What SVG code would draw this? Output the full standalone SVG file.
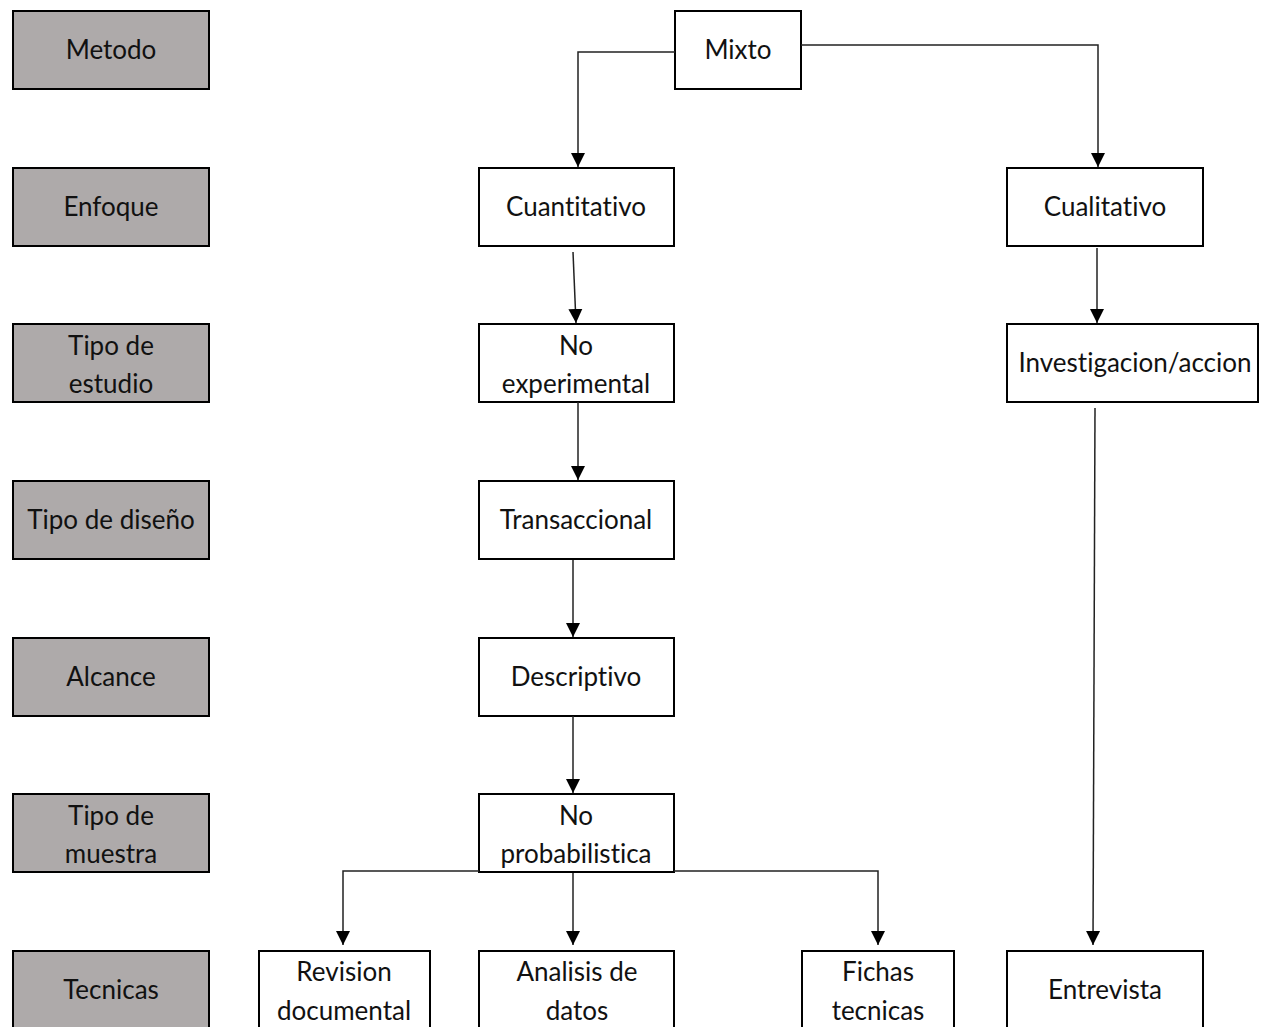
<svg xmlns="http://www.w3.org/2000/svg" width="1271" height="1027" viewBox="0 0 1271 1027">
<style>
.lab rect{fill:#AEAAAA;stroke:#000;stroke-width:2}
.box rect{fill:#fff;stroke:#000;stroke-width:2}
text{font-family:Lato,"Liberation Sans",sans-serif;font-size:26px;fill:#111;text-anchor:middle;dominant-baseline:central;font-variant-ligatures:none;font-feature-settings:"liga" 0,"clig" 0}
.con path{fill:none;stroke:#222;stroke-width:1.5}
</style>
<defs>
<marker id="ah" markerUnits="userSpaceOnUse" markerWidth="14" markerHeight="16" refX="14" refY="7" orient="auto" viewBox="0 0 14 14">
<path d="M0,0 L14,7 L0,14 Z" fill="#000"/>
</marker>
</defs>
<rect width="1271" height="1027" fill="#fff"/>
<g id="lab-metodo" class="lab"><rect x="13" y="11" width="196" height="78"/><text x="111" y="49">Metodo</text></g>
<g id="lab-enfoque" class="lab"><rect x="13" y="168" width="196" height="78"/><text x="111" y="206">Enfoque</text></g>
<g id="lab-estudio" class="lab"><rect x="13" y="324" width="196" height="78"/><text x="111" y="345">Tipo de</text><text x="111" y="383">estudio</text></g>
<g id="lab-diseno" class="lab"><rect x="13" y="481" width="196" height="78"/><text x="111" y="519">Tipo de diseño</text></g>
<g id="lab-alcance" class="lab"><rect x="13" y="638" width="196" height="78"/><text x="111" y="676">Alcance</text></g>
<g id="lab-muestra" class="lab"><rect x="13" y="794" width="196" height="78"/><text x="111" y="815">Tipo de</text><text x="111" y="853">muestra</text></g>
<g id="lab-tecnicas" class="lab"><rect x="13" y="951" width="196" height="90"/><text x="111" y="989">Tecnicas</text></g>

<g id="n-mixto" class="box"><rect x="675" y="11" width="126" height="78"/><text x="738" y="49">Mixto</text></g>
<g id="n-cuanti" class="box"><rect x="479" y="168" width="195" height="78"/><text x="576" y="206">Cuantitativo</text></g>
<g id="n-cuali" class="box"><rect x="1007" y="168" width="196" height="78"/><text x="1105" y="206">Cualitativo</text></g>
<g id="n-noexp" class="box"><rect x="479" y="324" width="195" height="78"/><text x="576" y="345">No</text><text x="576" y="383">experimental</text></g>
<g id="n-invest" class="box"><rect x="1007" y="324" width="251" height="78"/><text x="1135" y="362">Investigacion/accion</text></g>
<g id="n-trans" class="box"><rect x="479" y="481" width="195" height="78"/><text x="576" y="519">Transaccional</text></g>
<g id="n-desc" class="box"><rect x="479" y="638" width="195" height="78"/><text x="576" y="676">Descriptivo</text></g>
<g id="n-noprob" class="box"><rect x="479" y="794" width="195" height="78"/><text x="576" y="815">No</text><text x="576" y="853">probabilistica</text></g>
<g id="n-revision" class="box"><rect x="259" y="951" width="171" height="90"/><text x="344" y="971">Revision</text><text x="344" y="1010">documental</text></g>
<g id="n-analisis" class="box"><rect x="479" y="951" width="195" height="90"/><text x="577" y="971">Analisis de</text><text x="577" y="1010">datos</text></g>
<g id="n-fichas" class="box"><rect x="802" y="951" width="152" height="90"/><text x="878" y="971">Fichas</text><text x="878" y="1010">tecnicas</text></g>
<g id="n-entrevista" class="box"><rect x="1007" y="951" width="196" height="90"/><text x="1105" y="989">Entrevista</text></g>

<g id="connectors" class="con">
<path d="M675,52 H578 V167" marker-end="url(#ah)"/>
<path d="M801,45 H1098 V167" marker-end="url(#ah)"/>
<path d="M573,252 L576,323" marker-end="url(#ah)"/>
<path d="M578,402 V480" marker-end="url(#ah)"/>
<path d="M573,560 V637" marker-end="url(#ah)"/>
<path d="M573,716 V793" marker-end="url(#ah)"/>
<path d="M1097,248 V323" marker-end="url(#ah)"/>
<path d="M1095,408 L1093,945" marker-end="url(#ah)"/>
<path d="M479,871 H343 V945" marker-end="url(#ah)"/>
<path d="M674,871 H878 V945" marker-end="url(#ah)"/>
<path d="M573,873 V945" marker-end="url(#ah)"/>
</g>
</svg>
